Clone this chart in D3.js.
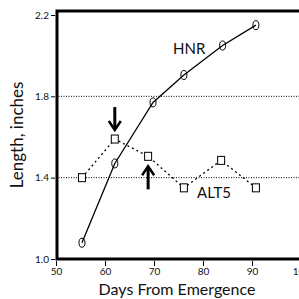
<!DOCTYPE html>
<html>
<head>
<meta charset="utf-8">
<script src="https://cdn.jsdelivr.net/npm/d3@7"></script>
<style>
body { margin: 0; background: #fff; }
text { font-family: Lato, "Open Sans", sans-serif; fill: #111; }
</style>
</head>
<body>
<div id="chart"></div>
<script>
// data
var hnrDays = [55.3, 62.0, 69.8, 76.1, 84.0, 90.8];
var hnrLength = [1.08, 1.47, 1.77, 1.905, 2.05, 2.15];
var altDays = [55.3, 62.0, 68.8, 76.1, 83.7, 90.8];
var altLength = [1.40, 1.59, 1.505, 1.35, 1.485, 1.35];
var xTicks = [50, 60, 70, 80, 90, 100];
var yTicks = [1.0, 1.4, 1.8, 2.2];
var gridLines = [1.4, 1.8];

var w = 299, h = 299;

var svg = d3.select("#chart").append("svg")
    .attr("width", w)
    .attr("height", h);

var x = d3.scaleLinear().domain([50, 100]).range([56, 301]);
var y = d3.scaleLinear().domain([1.0, 2.2]).range([259, 15]);

// dotted grid lines
svg.selectAll(".grid")
    .data(gridLines)
    .enter()
    .append("line")
    .attr("x1", x(50)).attr("x2", w)
    .attr("y1", function (d) { return y(d); })
    .attr("y2", function (d) { return y(d); })
    .attr("stroke", "#000")
    .attr("stroke-width", 1)
    .attr("stroke-dasharray", "1,1.5");

// frame
svg.append("path")
    .attr("d", "M" + w + "," + 11 + "H" + (x(50) + 1) + "V" + y(1.0) + "H" + w)
    .attr("fill", "none")
    .attr("stroke", "#000")
    .attr("stroke-width", 3);

// y axis
var yAxis = svg.append("g")
    .attr("transform", "translate(" + (x(50) - 1) + ",0)")
    .call(d3.axisLeft(y).tickValues(yTicks).tickFormat(d3.format(".1f")).tickSize(4).tickPadding(2));
yAxis.select(".domain").remove();
yAxis.selectAll("text").style("font-size", "10px");

// x axis
var xAxis = svg.append("g")
    .attr("transform", "translate(0," + (y(1.0) + 2) + ")")
    .call(d3.axisBottom(x).tickValues(xTicks).tickSize(5).tickPadding(2));
xAxis.select(".domain").remove();
xAxis.selectAll("text").style("font-size", "10px");

// axis titles
svg.append("text")
    .attr("x", 177)
    .attr("y", 295)
    .attr("text-anchor", "middle")
    .style("font-size", "16px")
    .text("Days From Emergence");

svg.append("text")
    .attr("transform", "translate(23,135) rotate(-90)")
    .attr("text-anchor", "middle")
    .style("font-size", "17px")
    .text("Length, inches");

// HNR line
var hnr = hnrDays.map(function (d, i) { return {x: d, y: hnrLength[i]}; });
var alt = altDays.map(function (d, i) { return {x: d, y: altLength[i]}; });

var line = d3.line()
    .x(function (d) { return x(d.x); })
    .y(function (d) { return y(d.y); });

svg.append("path")
    .datum(alt)
    .attr("d", line)
    .attr("fill", "none")
    .attr("stroke", "#000")
    .attr("stroke-width", 1.3)
    .attr("stroke-dasharray", "2,3");

svg.selectAll(".sq")
    .data(alt)
    .enter()
    .append("rect")
    .attr("x", function (d) { return x(d.x) - 3.5; })
    .attr("y", function (d) { return y(d.y) - 4; })
    .attr("width", 7)
    .attr("height", 8)
    .attr("fill", "#fff")
    .attr("stroke", "#000")
    .attr("stroke-width", 1);

svg.selectAll(".circ")
    .data(hnr)
    .enter()
    .append("ellipse")
    .attr("cx", function (d) { return x(d.x); })
    .attr("cy", function (d) { return y(d.y); })
    .attr("rx", 3)
    .attr("ry", 4.5)
    .attr("fill", "#fff")
    .attr("stroke", "#000")
    .attr("stroke-width", 1);

svg.append("path")
    .datum(hnr)
    .attr("d", line)
    .attr("fill", "none")
    .attr("stroke", "#000")
    .attr("stroke-width", 1.3);

// series labels
svg.append("text")
    .attr("x", 173)
    .attr("y", 54)
    .style("font-size", "15px")
    .text("HNR");

svg.append("text")
    .attr("x", 197)
    .attr("y", 198)
    .style("font-size", "15px")
    .text("ALT5");

// arrows
function arrow(cx, tipY, dir) {
    var len = 23;
    var baseY = tipY - dir * len;
    var headY = tipY - dir * 9;
    svg.append("line")
        .attr("x1", cx).attr("x2", cx)
        .attr("y1", baseY).attr("y2", tipY - dir * 2)
        .attr("stroke", "#000")
        .attr("stroke-width", 3);
    svg.append("path")
        .attr("d", "M" + (cx - 6) + "," + headY + "L" + cx + "," + tipY + "L" + (cx + 6) + "," + headY)
        .attr("fill", "none")
        .attr("stroke", "#000")
        .attr("stroke-width", 2.5);
}
arrow(x(62.0), y(1.59) - 9, 1);
arrow(x(68.8), y(1.505) + 10, -1);
</script>
</body>
</html>
